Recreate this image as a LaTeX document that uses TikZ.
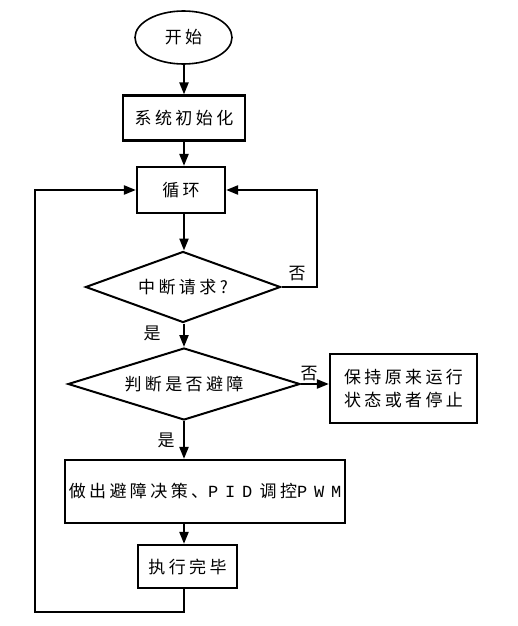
\documentclass[tikz,border=0pt]{standalone}
\usepackage{fontspec}
\newfontfamily\cjk[LetterSpace=20]{Noto Sans CJK SC}
\newfontfamily\latn[LetterSpace=40]{Liberation Mono}
\usetikzlibrary{shapes.geometric,arrows.meta}
\begin{document}
\begin{tikzpicture}[x=1pt,y=-1pt,
  every node/.style={font=\cjk\fontsize{17pt}{23pt}\selectfont},
  boxnode/.style={draw,line width=2.2pt,rectangle,inner sep=0pt,align=center},
  decnode/.style={draw,line width=2pt,diamond,inner sep=0pt},
  arr/.style={line width=2.2pt,-{Triangle[length=12pt,width=9pt]}},
  lbl/.style={inner sep=0pt}]
\useasboundingbox (0,0) rectangle (518,626);
\coordinate (c) at (184,0);
\node[draw,line width=1.6pt,ellipse,minimum width=97pt,minimum height=53pt,inner sep=0pt] (start) at (183.5,37.5) {开始};
\node[boxnode,minimum width=122pt,minimum height=45pt] (init) at (184,118) {系统初始化};
\node[boxnode,minimum width=88pt,minimum height=46pt] (loop) at (181,190) {循环};
\node[decnode,shape aspect=2.75,minimum width=195pt,minimum height=71pt] (dec1) at (183,287) {中断请求?};
\node[decnode,shape aspect=3.2,minimum width=232pt,minimum height=72pt] (dec2) at (184,384) {判断是否避障};
\node[boxnode,minimum width=147pt,minimum height=69pt] (keep) at (403.5,388.5) {保持原来运行\\状态或者停止};
\node[boxnode,minimum width=280pt,minimum height=63pt] (act) at (205,491.5) {做出避障决策、{\latn PID} 调控{\latn PWM}};
\node[boxnode,minimum width=99pt,minimum height=43pt] (done) at (187.5,566.5) {执行完毕};
\coordinate (rr) at (317,287);
\coordinate (bl) at (35,612);
\draw[arr] (start.south -| c) -- (init.north -| c);
\draw[arr] (init.south -| c) -- (loop.north -| c);
\draw[arr] (loop.south -| c) -- (dec1.north -| c);
\draw[arr] (dec1.east) -- (rr) |- (loop.east);
\draw[arr] (dec1.south -| c) -- (dec2.north -| c);
\draw[arr] (dec2.east) -- (dec2.east -| keep.west);
\draw[arr] (dec2.south -| c) -- (act.north -| c);
\draw[arr] (act.south -| c) -- (done.north -| c);
\draw[arr] (done.south -| c) |- (bl) |- (loop.west);
\node[lbl] (no1) at (297,274) {否};
\node[lbl] (yes1) at (152,333) {是};
\node[lbl] (no2) at (309,374) {否};
\node[lbl] (yes2) at (166,440) {是};
\end{tikzpicture}
\end{document}
